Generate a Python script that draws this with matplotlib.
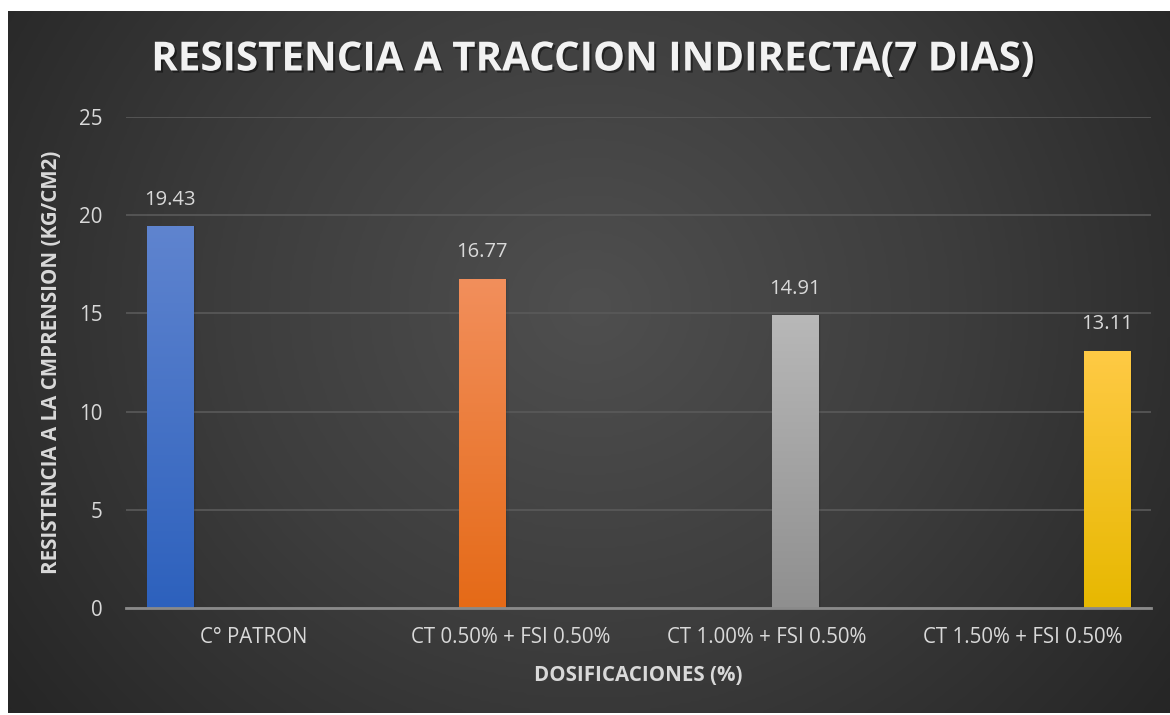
import numpy as np
import matplotlib
matplotlib.use("Agg")
import matplotlib.pyplot as plt
from matplotlib.colors import LinearSegmentedColormap
import matplotlib.patheffects as pe

# ---- data ----
categories = ["C° PATRON", "CT 0.50% + FSI 0.50%", "CT 1.00% + FSI 0.50%", "CT 1.50% + FSI 0.50%"]
values = [19.43, 16.77, 14.91, 13.11]
value_labels = ["19.43", "16.77", "14.91", "13.11"]
y_ticks = [0, 5, 10, 15, 20, 25]
title = "RESISTENCIA A TRACCION INDIRECTA(7 DIAS)"
x_label = "DOSIFICACIONES (%)"
y_label = "RESISTENCIA A LA CMPRENSION (KG/CM2)"
# gradient colours (top, bottom) per series
bar_colors = [("#5f84cf", "#2d61bd"),
              ("#f28f5c", "#e56a17"),
              ("#b8b8b8", "#8f8f8f"),
              ("#ffca45", "#e7b800")]

plt.rcParams['font.family'] = ['Open Sans', 'DejaVu Sans']
W, H = 1170, 715
fig = plt.figure(figsize=(W / 100, H / 100), dpi=100)
fig.patch.set_facecolor("white")

# background panel with radial gradient
bg = fig.add_axes([8 / W, 2 / H, (W - 8) / W, (713 - 11) / H], zorder=0)
bg.set_axis_off()
ny, nx = 300, 500
yy, xx = np.mgrid[0:ny, 0:nx]
cx, cy = nx * 0.50, ny * 0.42
r = np.sqrt(((xx - cx) / (nx * 0.62)) ** 2 + ((yy - cy) / (ny * 0.95)) ** 2)
r = np.clip(r, 0, 1)
bg_cmap = LinearSegmentedColormap.from_list("bg", ["#4f4f4f", "#3d3d3d", "#262626"])
bg.imshow(r, cmap=bg_cmap, vmin=0, vmax=1, aspect="auto", interpolation="bicubic")

# main axes
left, right = 126 / W, 1151 / W
bottom, top = (H - 608) / H, (H - 117) / H
ax = fig.add_axes([left, bottom, right - left, top - bottom], zorder=1)
ax.patch.set_alpha(0)
n = len(categories)
xc = np.arange(n)
step = 0.2185
bw = 0.18
offsets = (np.arange(n) - (n - 1) / 2) * step
xpos = xc + offsets

bars = ax.bar(xpos, values, bw, color="none", zorder=3)
grad = np.linspace(0, 1, 256).reshape(-1, 1)
for b, (ctop, cbot) in zip(bars, bar_colors):
    bx, by, w, h = b.get_x(), b.get_y(), b.get_width(), b.get_height()
    # soft shadow
    for k, a in [(0.004, 0.10), (0.008, 0.07), (0.012, 0.04)]:
        ax.bar(bx + w / 2 + k, h, w, bottom=0, color="black", alpha=a, zorder=2, linewidth=0)
    cm = LinearSegmentedColormap.from_list("g", [cbot, ctop])
    im = ax.imshow(grad, extent=[bx, bx + w, by, by + h], origin="lower", cmap=cm,
                   aspect="auto", zorder=3)
    im.set_clip_path(b)

for xp, v, lab in zip(xpos, values, value_labels):
    ax.annotate(lab, (xp, v), xytext=(0, 12), textcoords="offset points",
                ha="center", va="bottom", color="#d9d9d9", fontsize=14.5)

ax.set_xlim(-0.5, n - 0.5)
ax.set_ylim(0, 25)
ax.set_aspect("auto")
ax.set_yticks(y_ticks)
ax.set_yticklabels([str(t) for t in y_ticks])
ax.set_xticks(xc)
ax.set_xticklabels(categories)
ax.tick_params(axis="both", length=0, colors="#d9d9d9", labelsize=14.8)
ax.tick_params(axis="y", pad=17)
ax.tick_params(axis="x", pad=14)
ax.grid(axis="y", color="#5a5a5a", linewidth=1.2, zorder=0)
ax.set_axisbelow(True)
for s in ["top", "right", "left"]:
    ax.spines[s].set_visible(False)
ax.spines["bottom"].set_color("#8a8a8a")
ax.spines["bottom"].set_linewidth(2)
ax.spines["bottom"].set_zorder(5)

ax.set_xlabel(x_label, color="#d9d9d9", fontsize=14.8, fontweight="bold", labelpad=12)
ax.set_ylabel(y_label, color="#d9d9d9", fontsize=14.8, fontweight="bold", labelpad=12)

fig.text(593 / W, 1 - 60 / H, title, ha="center", va="center", color="#f2f2f2",
         fontsize=29, fontweight="bold",
         path_effects=[pe.withSimplePatchShadow(offset=(1.5, -1.5), shadow_rgbFace="black", alpha=0.45)])

fig.savefig("out.png", dpi=100, facecolor=fig.get_facecolor())
